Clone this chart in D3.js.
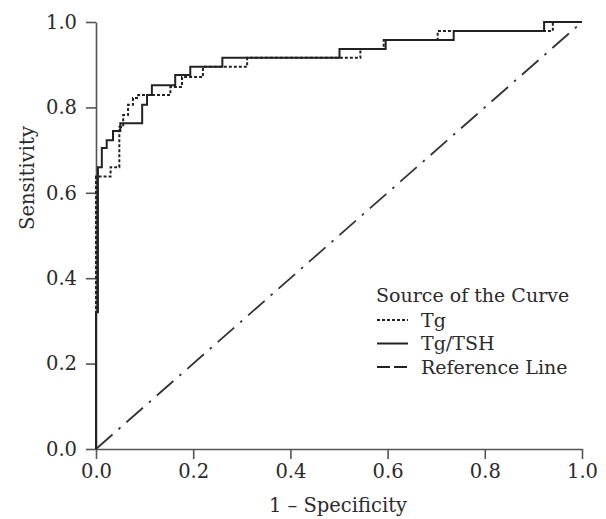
<!DOCTYPE html>
<html>
<head>
<meta charset="utf-8">
<script src="https://cdn.jsdelivr.net/npm/d3@7"></script>
<style>
  html, body { margin: 0; padding: 0; background: #fff; }
  svg { display: block; }
</style>
</head>
<body>
<svg id="chart" width="606" height="519"></svg>
<script>
// ---- data ----
const tgFpr = [0, 0, 0.03, 0.03, 0.048, 0.048, 0.056, 0.056, 0.066, 0.066, 0.076, 0.076, 0.087, 0.087, 0.153, 0.153, 0.177, 0.177, 0.22, 0.22, 0.311, 0.311, 0.544, 0.544, 0.592, 0.592, 0.703, 0.703, 0.94, 0.94, 1.0];
const tgTpr = [0, 0.638, 0.638, 0.66, 0.66, 0.754, 0.754, 0.782, 0.782, 0.806, 0.806, 0.822, 0.822, 0.829, 0.829, 0.848, 0.848, 0.871, 0.871, 0.895, 0.895, 0.916, 0.916, 0.937, 0.937, 0.958, 0.958, 0.979, 0.979, 1.0, 1.0];

const tshFpr = [0, 0, 0.004, 0.004, 0.012, 0.012, 0.022, 0.022, 0.035, 0.035, 0.05, 0.05, 0.095, 0.095, 0.105, 0.105, 0.115, 0.115, 0.163, 0.163, 0.194, 0.194, 0.26, 0.26, 0.501, 0.501, 0.596, 0.596, 0.736, 0.736, 0.922, 0.922, 1.0];
const tshTpr = [0, 0.32, 0.32, 0.66, 0.66, 0.705, 0.705, 0.723, 0.723, 0.745, 0.745, 0.763, 0.763, 0.806, 0.806, 0.829, 0.829, 0.852, 0.852, 0.876, 0.876, 0.895, 0.895, 0.916, 0.916, 0.937, 0.937, 0.958, 0.958, 0.979, 0.979, 1.0, 1.0];

const refFpr = [0, 1];
const refTpr = [0, 1];

const tickValues = [0, 0.2, 0.4, 0.6, 0.8, 1.0];
const legendTitle = "Source of the Curve";
const legendLabels = ["Tg", "Tg/TSH", "Reference Line"];
const xTitle = "1 \u2013 Specificity";
const yTitle = "Sensitivity";

// ---- layout ----
const svg = d3.select("#chart");
const pLeft = 96, pRight = 582, pTop = 22, pBottom = 449;
const x = d3.scaleLinear().domain([0, 1]).range([pLeft, pRight]);
const y = d3.scaleLinear().domain([0, 1]).range([pBottom, pTop]);
const font = "'DejaVu Serif', serif";
const ink = "#2b2b2b";
const axisCol = "#555";

// axes
const xAxis = d3.axisBottom(x).tickValues(tickValues).tickFormat(d3.format(".1f")).tickSize(10).tickSizeOuter(0).tickPadding(5);
const yAxis = d3.axisLeft(y).tickValues(tickValues).tickFormat(d3.format(".1f")).tickSize(10).tickSizeOuter(0).tickPadding(9);

const gx = svg.append("g").attr("transform", `translate(0,${pBottom})`).call(xAxis);
const gy = svg.append("g").attr("transform", `translate(${pLeft},0)`).call(yAxis);
[gx, gy].forEach(g => {
  g.attr("font-family", font).attr("font-size", 19.5);
  g.selectAll("path, line").attr("stroke", axisCol).attr("stroke-width", 1.6);
  g.selectAll("text").attr("fill", ink);
});

// reference line
const line = d3.line().x(d => x(d[0])).y(d => y(d[1]));
svg.append("path")
  .datum(refFpr.map((v, i) => [v, refTpr[i]]))
  .attr("d", line)
  .attr("fill", "none").attr("stroke", "#333").attr("stroke-width", 1.8)
  .attr("stroke-dasharray", "22,8,2.5,8");

// Tg (dotted)
svg.append("path")
  .datum(tgFpr.map((v, i) => [v, tgTpr[i]]))
  .attr("d", line)
  .attr("fill", "none").attr("stroke", "#222").attr("stroke-width", 2)
  .attr("stroke-dasharray", "3,2");

// Tg/TSH (solid)
svg.append("path")
  .datum(tshFpr.map((v, i) => [v, tshTpr[i]]))
  .attr("d", line)
  .attr("fill", "none").attr("stroke", "#222").attr("stroke-width", 2);

// axis titles
svg.append("text").attr("x", (pLeft + pRight) / 2 - 1).attr("y", 512)
  .attr("text-anchor", "middle").attr("font-family", font).attr("font-size", 19.5).attr("fill", ink)
  .text(xTitle);
svg.append("text").attr("transform", "translate(34,178) rotate(-90)")
  .attr("text-anchor", "middle").attr("font-family", font).attr("font-size", 19.5).attr("fill", ink)
  .text(yTitle);

// legend
const lg = svg.append("g").attr("font-family", font).attr("font-size", 19).attr("fill", ink);
lg.append("text").attr("x", 376).attr("y", 302).text(legendTitle);
const styles = [
  { dash: "3,2" },
  { dash: null },
  { dash: "13,4" }
];
legendLabels.forEach((lab, i) => {
  const yy = 320 + i * 23.5;
  const l = lg.append("line").attr("x1", 377).attr("x2", 408).attr("y1", yy).attr("y2", yy)
    .attr("stroke", "#222").attr("stroke-width", 2);
  if (styles[i].dash) l.attr("stroke-dasharray", styles[i].dash);
  lg.append("text").attr("x", 421).attr("y", yy + 6.5).text(lab);
});
</script>
</body>
</html>
